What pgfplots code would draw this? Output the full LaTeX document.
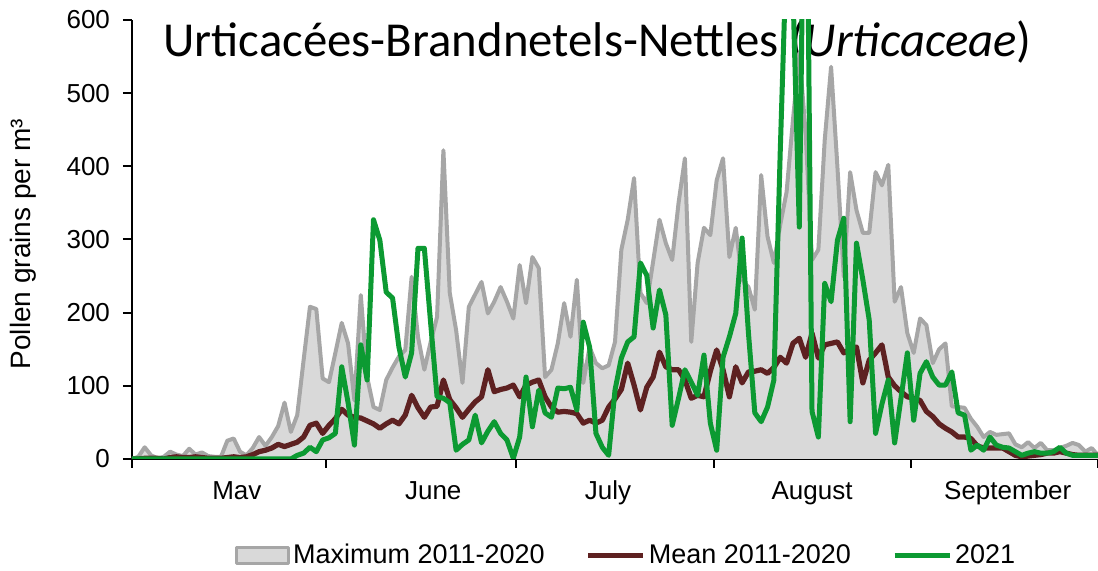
\documentclass[border=0pt]{standalone}
\usepackage{fontspec}
\setmainfont{Liberation Sans}
\newfontfamily\titlefont{Carlito}
\usepackage{pgfplots}
\pgfplotsset{compat=1.18}
\usepackage{pgfplotstable}

\definecolor{greyfill}{HTML}{D9D9D9}
\definecolor{greyline}{HTML}{A6A6A6}
\definecolor{meancol}{HTML}{5E2121}
\definecolor{colnew}{HTML}{0C9A32}

\pgfplotstableread{
day max mean yr
0 0 0 0
1 3 0 0
2 16 1 0
3 5 1 0
4 1 1 0
5 3 0 0
6 10 2 0
7 6 3 0
8 4 2 0
9 14 2 0
10 6 3 0
11 9 2 0
12 4 1 0
13 3 1 0
14 3 1 0
15 25 2 0
16 28 3 0
17 10 2 0
18 5 3 0
19 15 6 0
20 30 10 0
21 18 12 0
22 30 15 0
23 45 20 0
24 77 17 0
25 37 20 0
26 60 23 5
27 135 30 8
28 208 46 16
29 205 49 10
30 110 35 26
31 105 46 29
32 145 55 35
33 186 68 126
34 158 60 77
35 80 57 19
36 224 56 156
37 112 52 108
38 71 48 327
39 67 42 299
40 108 48 228
41 125 53 220
42 140 48 153
43 149 60 112
44 249 87 145
45 167 70 288
46 122 57 288
47 160 71 185
48 194 72 85
49 422 108 83
50 227 81 77
51 176 70 12
52 104 57 20
53 208 68 26
54 225 78 60
55 242 85 22
56 199 122 38
57 215 92 51
58 235 95 35
59 215 97 26
60 192 101 1
61 265 85 30
62 213 101 112
63 276 105 44
64 261 108 94
65 112 85 63
66 122 71 57
67 158 64 97
68 213 65 96
69 167 64 98
70 245 62 67
71 104 49 187
72 153 53 153
73 131 49 35
74 124 53 16
75 128 71 5
76 160 82 94
77 286 95 138
78 327 131 160
79 384 101 167
80 227 67 268
81 213 98 251
82 270 112 179
83 327 146 231
84 295 126 197
85 272 122 46
86 350 122 83
87 411 108 122
88 160 83 105
89 268 87 87
90 316 85 142
91 306 120 49
92 381 149 12
93 411 122 139
94 276 85 167
95 316 126 199
96 245 104 302
97 235 119 172
98 204 120 63
99 388 122 51
100 304 117 71
101 268 125 108
102 320 139 420
103 365 131 700
104 463 158 640
105 555 165 317
106 445 139 1000
107 272 172 65
108 286 138 30
109 436 156 240
110 536 158 215
111 399 160 299
112 249 145 329
113 392 150 51
114 340 153 295
115 309 104 245
116 309 135 190
117 392 145 35
118 374 156 75
119 402 112 108
120 215 100 22
121 235 92 83
122 172 85 145
123 145 83 53
124 192 80 117
125 183 65 133
126 131 58 112
127 150 48 101
128 158 42 101
129 72 37 119
130 71 30 63
131 70 30 60
132 55 28 12
133 44 18 19
134 30 15 12
135 37 15 30
136 33 15 19
137 34 15 16
138 35 10 15
139 20 5 10
140 16 3 5
141 23 4 8
142 15 5 10
143 22 6 8
144 12 8 8
145 12 8 10
146 15 10 16
147 18 8 8
148 22 6 5
149 19 5 5
150 10 5 5
151 15 5 5
152 5 5 5
}\data

\begin{document}
\begin{tikzpicture}
\useasboundingbox (-66pt,-56pt) rectangle (483pt,229.5pt);
\node[anchor=base west, inner sep=0pt, font=\titlefont\fontsize{24.4}{28}\selectfont] at (15.5pt,201pt) {Urticacées-Brandnetels-Nettles (\textit{Urticaceae})};
\node[rotate=90, inner sep=0pt, font=\fontsize{14}{16}\selectfont] at (-54.5pt,107.5pt) {Pollen grains per m³};
\begin{axis}[
  at={(0,0)}, anchor=south west,
  width=483pt, height=219.5pt, scale only axis,
  xmin=0, xmax=152, ymin=0, ymax=600,
  axis x line*=bottom, axis y line*=left,
  axis line style={line width=1pt, -, black},
  ytick={0,100,...,600},
  xtick={16.5,47.4,74.9,107,137.8},
  xticklabels={Mav,June,July,August,September},
  minor xtick={0,30.5,60.5,91.5,122.5,152},
  tick align=outside,
  major tick length=4.5pt, minor tick length=4.5pt,
  every tick/.style={line width=1pt, black},
  major x tick style={draw=none},
  tick label style={font=\fontsize{13}{15}\selectfont},
  /pgf/number format/assume math mode=true,
  yticklabel style={anchor=east, xshift=-3pt},
  xticklabel style={anchor=base, yshift=-16pt},
  legend style={at={(0.512,-0.219)}, anchor=center, draw=none, fill=none,
    font=\fontsize{13.5}{16}\selectfont,
    /tikz/every even column/.append style={column sep=19pt},
    nodes={inner sep=1.5pt}},
  legend columns=3,
  line join=round,
]
\addplot[draw=none, fill=greyfill,
  legend image code/.code={\draw[fill=greyfill,draw=greyline,line width=1.5pt] (0pt,-4pt) rectangle (26pt,4pt);}]
  table[x=day,y=max]{\data} \closedcycle;
\addlegendentry{Maximum 2011-2020}
\addplot[greyline, line width=2pt, forget plot] table[x=day,y=max]{\data};
\addplot[meancol, line width=2.6pt,
  legend image code/.code={\draw[meancol,line width=2.6pt] (0pt,0pt) -- (27.5pt,0pt);}]
  table[x=day,y=mean]{\data};
\addlegendentry{Mean 2011-2020}
\addplot[colnew, line width=2.5pt,
  legend image code/.code={\draw[colnew,line width=2.5pt] (0pt,0pt) -- (27.5pt,0pt);}]
  table[x=day,y=yr]{\data};
\addlegendentry{2021}
\end{axis}
\end{tikzpicture}
\end{document}
